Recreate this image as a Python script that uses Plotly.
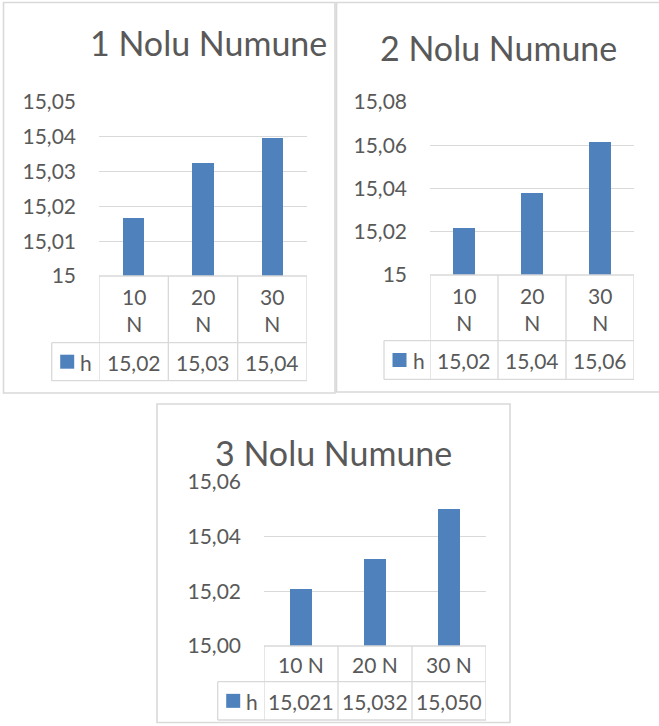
import plotly.graph_objects as go

W, H = 659, 726

# ---- data -------------------------------------------------------------
categories = ["10 N", "20 N", "30 N"]
series_name = "h"

h_sample1 = [15.0166, 15.0324, 15.0397]
h_sample2 = [15.0216, 15.0380, 15.0616]
h_sample3 = [15.021, 15.032, 15.050]

titles = ["1 Nolu Numune", "2 Nolu Numune", "3 Nolu Numune"]

ticks1 = [15.00, 15.01, 15.02, 15.03, 15.04, 15.05]
ticklabels1 = ["15", "15,01", "15,02", "15,03", "15,04", "15,05"]
ticks2 = [15.00, 15.02, 15.04, 15.06, 15.08]
ticklabels2 = ["15", "15,02", "15,04", "15,06", "15,08"]
ticks3 = [15.00, 15.02, 15.04, 15.06]
ticklabels3 = ["15,00", "15,02", "15,04", "15,06"]

# ---- styling ----------------------------------------------------------
BAR = "#4F81BD"
TEXT = "#595959"
GRID = "#D9D9D9"
FRAME = "#D9D9D9"
FONT = "Lato"
TICK_SIZE = 21
TITLE_SIZE = 34


def px(x):
    return x / W


def py(y):
    return 1 - y / H


# layout of each chart in pixels
panels = [
    dict(values=h_sample1, title=titles[0], tv=ticks1, tt=ticklabels1,
         frame=(3.5, 2.5, 335, 393), plot=(99, 102, 307, 276),
         row1=342.7, row2=380.7, legend_left=51.7, title_xy=(208, 42),
         decimals=2, wrap=True),
    dict(values=h_sample2, title=titles[1], tv=ticks2, tt=ticklabels2,
         frame=(336.5, 2.5, 662, 392), plot=(430, 102, 634, 275),
         row1=340.7, row2=379.3, legend_left=384, title_xy=(498.5, 47.5),
         decimals=2, wrap=True),
    dict(values=h_sample3, title=titles[2], tv=ticks3, tt=ticklabels3,
         frame=(157, 404, 510, 722.5), plot=(264, 481.7, 486, 646),
         row1=681.7, row2=720, legend_left=217.7, title_xy=(333, 452),
         decimals=3, wrap=False),
]

fig = go.Figure()
shapes = []
annotations = []
layout_axes = {}

for i, p in enumerate(panels, start=1):
    xa = "x" if i == 1 else f"x{i}"
    ya = "y" if i == 1 else f"y{i}"
    xkey = "xaxis" if i == 1 else f"xaxis{i}"
    ykey = "yaxis" if i == 1 else f"yaxis{i}"
    x0, y0, x1, y1 = p["plot"]
    tv = p["tv"]

    fig.add_trace(go.Bar(
        x=categories, y=p["values"], name=series_name,
        marker=dict(color=BAR, line=dict(width=0)),
        width=0.31, xaxis=xa, yaxis=ya, showlegend=False,
    ))

    layout_axes[xkey] = dict(
        domain=[px(x0), px(x1)], anchor=ya, type="category",
        range=[-0.5, 2.5], showticklabels=False, showgrid=False,
        zeroline=False, showline=False, fixedrange=True, automargin=False,
    )
    layout_axes[ykey] = dict(
        domain=[py(y1), py(y0)], anchor=xa, range=[tv[0], tv[-1]],
        tickmode="array", tickvals=tv, ticktext=p["tt"],
        showgrid=True, gridcolor=GRID, gridwidth=1.3,
        zeroline=False, showline=False, ticks="",
        ticklabelstandoff=22, automargin=False,
        tickfont=dict(family=FONT, size=TICK_SIZE, color=TEXT),
        fixedrange=True,
    )

    # outer chart frame
    fx0, fy0, fx1, fy1 = p["frame"]
    shapes.append(dict(type="rect", xref="paper", yref="paper",
                       x0=px(fx0), x1=px(fx1), y0=py(fy1), y1=py(fy0),
                       line=dict(color=FRAME, width=1.6), layer="below"))

    # data table under the plot area
    line = dict(color=GRID, width=1.3)
    r0, r1, r2 = y1, p["row1"], p["row2"]
    for b in [-0.5, 0.5, 1.5, 2.5]:
        shapes.append(dict(type="line", xref=xa, yref="paper",
                           x0=b, x1=b, y0=py(r0), y1=py(r2), line=line))
    shapes.append(dict(type="line", xref=xa, yref="paper",
                       x0=-0.5, x1=2.5, y0=py(r0), y1=py(r0), line=line))
    for r in (r1, r2):
        shapes.append(dict(type="line", xref="paper", yref="paper",
                           x0=px(p["legend_left"]), x1=px(x1),
                           y0=py(r), y1=py(r), line=line))
    shapes.append(dict(type="line", xref="paper", yref="paper",
                       x0=px(p["legend_left"]), x1=px(p["legend_left"]),
                       y0=py(r1), y1=py(r2), line=line))

    # legend key inside the table
    lx = p["legend_left"]
    mid2 = (r1 + r2) / 2
    shapes.append(dict(type="rect", xref="paper", yref="paper",
                       x0=px(lx + 8.5), x1=px(lx + 22.5),
                       y0=py(mid2 + 7), y1=py(mid2 - 7),
                       fillcolor=BAR, line=dict(width=0)))
    annotations.append(dict(xref="paper", yref="paper", x=px(lx + 26.5),
                            y=py(mid2 + 0.5), xanchor="left", yanchor="middle",
                            text=series_name, showarrow=False,
                            font=dict(family=FONT, size=TICK_SIZE, color=TEXT)))

    mid1 = (r0 + r1) / 2
    fmt = "{:." + str(p["decimals"]) + "f}"
    for c, v in zip(categories, p["values"]):
        label = c.replace(" ", "<br>") if p["wrap"] else c
        annotations.append(dict(xref=xa, yref="paper", x=c, y=py(mid1 + 1),
                                xanchor="center", yanchor="middle", text=label,
                                showarrow=False,
                                font=dict(family=FONT, size=TICK_SIZE, color=TEXT)))
        annotations.append(dict(xref=xa, yref="paper", x=c, y=py(mid2 + 0.5),
                                xanchor="center", yanchor="middle",
                                text=fmt.format(v).replace(".", ","),
                                showarrow=False,
                                font=dict(family=FONT, size=TICK_SIZE, color=TEXT)))

    # chart title
    tx, ty = p["title_xy"]
    annotations.append(dict(xref="paper", yref="paper", x=px(tx), y=py(ty),
                            xanchor="center", yanchor="middle", text=p["title"],
                            showarrow=False,
                            font=dict(family=FONT, size=TITLE_SIZE, color=TEXT)))

fig.update_layout(
    width=W, height=H,
    margin=dict(l=0, r=0, t=0, b=0, pad=0, autoexpand=False),
    paper_bgcolor="white", plot_bgcolor="white",
    bargap=0, showlegend=False,
    shapes=shapes, annotations=annotations,
    **layout_axes,
)

fig.write_html("out.html", config={"displayModeBar": False})
